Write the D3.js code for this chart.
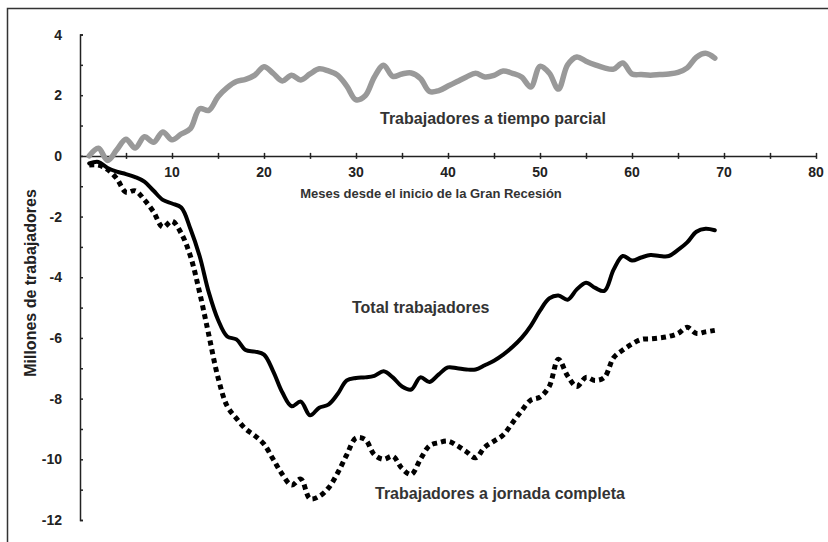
<!DOCTYPE html>
<html>
<head>
<meta charset="utf-8">
<script src="https://d3js.org/d3.v7.min.js"></script>
<title>Gran Recesión</title>
<style>
body { margin: 0; background: #fff; }
text { font-family: "Liberation Sans", Arial, sans-serif; font-weight: bold; }
</style>
</head>
<body>
<script>

var width = 828,
    height = 542;

// months since start of the Great Recession
var meses = d3.range(1, 70);

// millions of workers
var parcial = [0.0, 0.25, -0.15, 0.2, 0.55, 0.26, 0.63, 0.45, 0.79, 0.53,
  0.72, 0.9, 1.55, 1.5, 1.95, 2.25, 2.45, 2.52, 2.66, 2.94,
  2.72, 2.47, 2.66, 2.5, 2.7, 2.87, 2.8, 2.66, 2.3, 1.85,
  1.98, 2.6, 2.99, 2.62, 2.7, 2.73, 2.55, 2.12, 2.15, 2.3,
  2.45, 2.6, 2.72, 2.6, 2.65, 2.8, 2.72, 2.6, 2.27, 2.95,
  2.73, 2.2, 3.0, 3.26, 3.12, 3.0, 2.9, 2.86, 3.06, 2.7,
  2.68, 2.66, 2.68, 2.7, 2.75, 2.9, 3.25, 3.38, 3.22];

var total = [-0.25, -0.2, -0.4, -0.52, -0.6, -0.7, -0.85, -1.15, -1.45, -1.57,
  -1.7, -2.4, -3.3, -4.5, -5.4, -5.95, -6.05, -6.4, -6.45, -6.55,
  -7.1, -7.8, -8.25, -8.1, -8.55, -8.3, -8.2, -7.85, -7.4, -7.32,
  -7.3, -7.25, -7.1, -7.3, -7.6, -7.7, -7.3, -7.45, -7.2, -6.97,
  -7.0, -7.04, -7.04, -6.9, -6.75, -6.55, -6.3, -6.0, -5.6, -5.1,
  -4.7, -4.6, -4.74, -4.4, -4.18, -4.35, -4.45, -3.75, -3.3, -3.45,
  -3.35, -3.27, -3.3, -3.3, -3.1, -2.85, -2.5, -2.4, -2.45];

var completa = [-0.3, -0.3, -0.45, -0.75, -1.2, -1.15, -1.45, -1.85, -2.35, -2.15,
  -2.55, -3.3, -4.5, -5.9, -7.3, -8.25, -8.65, -9.0, -9.22, -9.5,
  -10.0, -10.5, -10.85, -10.65, -11.3, -11.22, -10.95, -10.45, -9.85, -9.3,
  -9.35, -9.85, -10.0, -9.9, -10.3, -10.5, -10.0, -9.55, -9.45, -9.4,
  -9.55, -9.75, -9.95, -9.6, -9.4, -9.2, -8.8, -8.4, -8.05, -7.95,
  -7.6, -6.7, -7.25, -7.6, -7.3, -7.4, -7.3, -6.65, -6.4, -6.2,
  -6.05, -6.03, -6.0, -5.95, -5.85, -5.65, -5.85, -5.8, -5.75];

var xTickLabels = [10, 20, 30, 40, 50, 60, 70, 80];
var yTickLabels = [4, 2, 0, -2, -4, -6, -8, -10, -12];

var svg = d3.select( "body" )
  .append( "svg" )
  .attr( "width", width )
  .attr( "height", height );

// frame round the chart (only top and left show in the original)
svg.append( "rect" )
  .attr( "x", 7.5 )
  .attr( "y", 8.5 )
  .attr( "width", 840 )
  .attr( "height", 560 )
  .attr( "fill", "none" )
  .attr( "stroke", "#333" )
  .attr( "stroke-width", 1.5 );

var x = d3.scaleLinear()
    .domain([0, 80])
    .range([80, 816]);

var y = d3.scaleLinear()
    .domain([-12, 4])
    .range([520, 34.5]);

// y axis: ticks every unit, pointing inward
var yAxis = svg.append( "g" )
  .attr( "transform", "translate(" + x(0) + ",0)" )
  .call( d3.axisRight(y).tickValues(d3.range(-12, 5, 1)).tickSize(3).tickFormat("") );
yAxis.select( ".domain" ).attr( "stroke", "#222" ).attr( "stroke-width", 1.5 );
yAxis.selectAll( ".tick line" ).attr( "stroke", "#222" ).attr( "stroke-width", 1.5 );

svg.selectAll( ".ylab" )
  .data( yTickLabels )
  .enter()
  .append( "text" )
  .attr( "class", "ylab" )
  .attr( "x", 62 )
  .attr( "y", function(d) { return y(d) + 5; } )
  .attr( "text-anchor", "end" )
  .attr( "font-size", 14 )
  .attr( "fill", "#222" )
  .text( function(d) { return d; } );

// x axis at zero, ticks every 5 months crossing the line
var xAxis = svg.append( "g" )
  .attr( "transform", "translate(0," + y(0) + ")" )
  .call( d3.axisBottom(x).tickValues(d3.range(5, 85, 5)).tickSizeInner(3).tickSizeOuter(0).tickFormat("") );
xAxis.select( ".domain" ).attr( "stroke", "#222" ).attr( "stroke-width", 1.5 );
xAxis.selectAll( ".tick line" )
  .attr( "y1", -3 )
  .attr( "stroke", "#222" )
  .attr( "stroke-width", 1.5 );

svg.selectAll( ".xlab" )
  .data( xTickLabels )
  .enter()
  .append( "text" )
  .attr( "class", "xlab" )
  .attr( "x", function(d) { return x(d); } )
  .attr( "y", y(0) + 21 )
  .attr( "text-anchor", "middle" )
  .attr( "font-size", 14 )
  .attr( "fill", "#222" )
  .text( function(d) { return d; } );

svg.append( "text" )
  .attr( "x", 431 )
  .attr( "y", 197.5 )
  .attr( "text-anchor", "middle" )
  .attr( "font-size", 13 )
  .attr( "fill", "#333" )
  .text( "Meses desde el inicio de la Gran Recesión" );

svg.append( "text" )
  .attr( "transform", "translate(36,283) rotate(-90)" )
  .attr( "text-anchor", "middle" )
  .attr( "font-size", 16 )
  .attr( "fill", "#222" )
  .text( "Millones de trabajadores" );

var line = d3.line()
    .x( function(d) { return x(d[0]); } )
    .y( function(d) { return y(d[1]); } )
    .curve( d3.curveCatmullRom );

function pares(valores) {
  return meses.map( function(m, i) { return [m, valores[i]]; } );
}

svg.append( "path" )
  .datum( pares(parcial) )
  .attr( "fill", "none" )
  .attr( "stroke", "#999" )
  .attr( "stroke-width", 5.5 )
  .attr( "stroke-linejoin", "round" )
  .attr( "stroke-linecap", "round" )
  .attr( "d", line );

svg.append( "path" )
  .datum( pares(completa) )
  .attr( "fill", "none" )
  .attr( "stroke", "#000" )
  .attr( "stroke-width", 5 )
  .attr( "stroke-dasharray", "5,4" )
  .attr( "d", line );

svg.append( "path" )
  .datum( pares(total) )
  .attr( "fill", "none" )
  .attr( "stroke", "#000" )
  .attr( "stroke-width", 4 )
  .attr( "stroke-linejoin", "round" )
  .attr( "stroke-linecap", "round" )
  .attr( "d", line );

// series labels
svg.append( "text" )
  .attr( "x", 380 )
  .attr( "y", 124 )
  .attr( "font-size", 16 )
  .attr( "fill", "#333" )
  .text( "Trabajadores a tiempo parcial" );

svg.append( "text" )
  .attr( "x", 352 )
  .attr( "y", 313 )
  .attr( "font-size", 16 )
  .attr( "fill", "#333" )
  .text( "Total trabajadores" );

svg.append( "text" )
  .attr( "x", 375 )
  .attr( "y", 499 )
  .attr( "font-size", 16 )
  .attr( "fill", "#333" )
  .text( "Trabajadores a jornada completa" );

</script>
</body>
</html>
